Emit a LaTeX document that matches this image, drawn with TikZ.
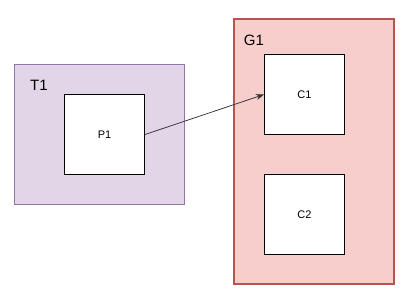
\documentclass[tikz,border=0pt]{standalone}
\usepackage{fontspec}
\setmainfont{Liberation Sans}
\usetikzlibrary{arrows.meta}
\definecolor{tfill}{HTML}{E1D5E7}
\definecolor{tdraw}{HTML}{9673A6}
\definecolor{gfill}{HTML}{F8CECC}
\definecolor{gdraw}{HTML}{B85450}
\definecolor{arrowc}{HTML}{333333}
\tikzset{
  inner/.style={draw=black, fill=white, line width=1pt, minimum width=80pt, minimum height=80pt, inner sep=0pt, font=\fontsize{11}{13}\selectfont},
  grouplabel/.style={inner sep=0pt, font=\fontsize{15}{17}\selectfont},
  conn/.style={draw=arrowc, line width=0.75pt, -{Stealth[length=8pt,width=6pt]}}
}
\begin{document}
\begin{tikzpicture}[x=1pt,y=-1pt]
\useasboundingbox (0,0) rectangle (416,298);
\draw[fill=tfill, draw=tdraw, line width=1pt] (14.5,64.5) rectangle (184.5,204.5);
\node[grouplabel] (t1) at (39,85) {T1};
\draw[fill=gfill, draw=gdraw, line width=2pt] (234,19) rectangle (394,284);
\node[grouplabel] (g1) at (254,40) {G1};
\node[inner] (p1) at (104.5,134.5) {P1};
\node[inner] (c1) at (304.5,94.5) {C1};
\node[inner] (c2) at (304.5,214.5) {C2};
\draw[conn] (p1.east) -- (c1.west);
\end{tikzpicture}
\end{document}
